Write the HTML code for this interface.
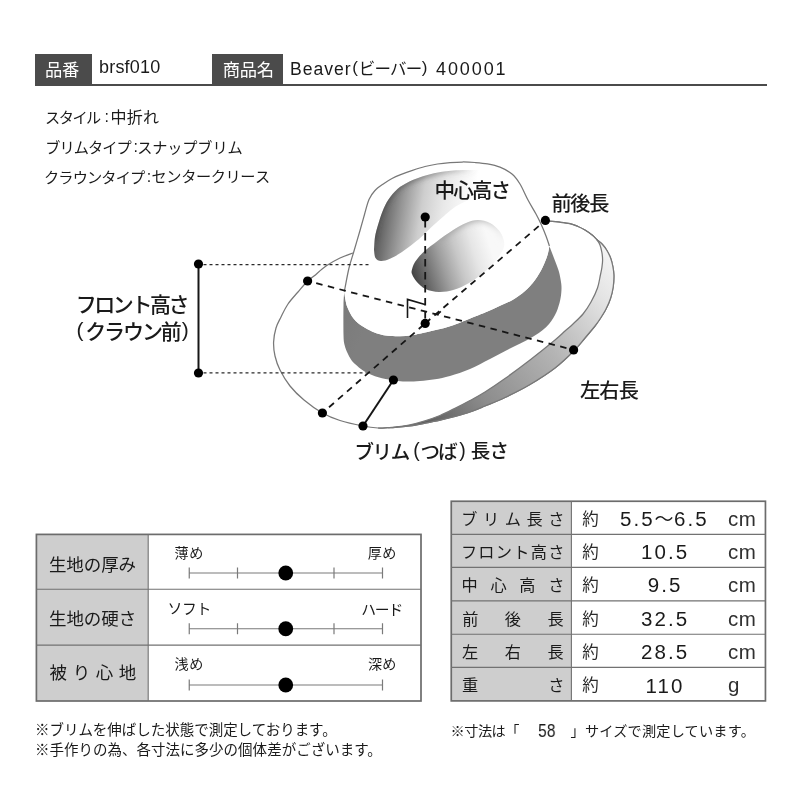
<!DOCTYPE html>
<html lang="ja"><head><meta charset="utf-8"><title>Beaver 400001</title>
<style>
html,body{margin:0;padding:0;background:#fff}
body{width:800px;height:800px;position:relative;overflow:hidden;font-family:"Liberation Sans",sans-serif;color:#1a1a1a}
.a{position:absolute;white-space:nowrap;line-height:1;will-change:transform}
.box{position:absolute;background:#4b4b4b}
.cell{position:absolute}
svg text{font-family:"Liberation Sans","Noto Sans CJK JP",sans-serif}
</style></head><body>
<div class="box" style="left:35px;top:54px;width:57px;height:31.4px"></div>
<div class="box" style="left:212.2px;top:54px;width:70.4px;height:31.4px"></div>
<div class="a" style="left:35px;top:83.8px;width:732.3px;height:1.6px;background:#4b4b4b"></div>
<div class="a" id="t_code" style="left:99px;top:58.2px;font-size:18px;letter-spacing:.2px">brsf010</div>
<div class="a" id="t_name" style="left:289.9px;top:61px;font-size:17.6px;letter-spacing:.95px">Beaver</div>
<div class="a" id="t_num" style="left:435.7px;top:60px;font-size:18px;letter-spacing:1.9px">400001</div>

<!-- left table -->
<div class="cell" style="left:36.4px;top:534.4px;width:111.8px;height:166.6px;background:#cecece"></div>

<!-- right table -->
<div class="cell" style="left:451.25px;top:501.25px;width:120.2px;height:199.6px;background:#cecece"></div>
<div class="a" id="n0a" style="left:620.2px;top:508.8px;font-size:20.5px;letter-spacing:2.1px">5.5</div>
<div class="a" id="n0b" style="left:673.8px;top:508.8px;font-size:20.5px;letter-spacing:2.1px">6.5</div>
<div class="a" id="u0" style="left:728px;top:508.6px;font-size:20.5px;letter-spacing:.4px;color:#303030">cm</div>
<div class="a" id="n1" style="left:563.75px;width:200px;text-align:center;top:542.1px;font-size:20.5px;letter-spacing:2.1px;text-indent:2.1px">10.5</div>
<div class="a" id="u1" style="left:728px;top:541.9px;font-size:20.5px;letter-spacing:.4px;color:#303030">cm</div>
<div class="a" id="n2" style="left:563.75px;width:200px;text-align:center;top:575.2px;font-size:20.5px;letter-spacing:2.1px;text-indent:2.1px">9.5</div>
<div class="a" id="u2" style="left:728px;top:575px;font-size:20.5px;letter-spacing:.4px;color:#303030">cm</div>
<div class="a" id="n3" style="left:563.75px;width:200px;text-align:center;top:608.9px;font-size:20.5px;letter-spacing:2.1px;text-indent:2.1px">32.5</div>
<div class="a" id="u3" style="left:728px;top:608.7px;font-size:20.5px;letter-spacing:.4px;color:#303030">cm</div>
<div class="a" id="n4" style="left:563.75px;width:200px;text-align:center;top:642.3px;font-size:20.5px;letter-spacing:2.1px;text-indent:2.1px">28.5</div>
<div class="a" id="u4" style="left:728px;top:642.1px;font-size:20.5px;letter-spacing:.4px;color:#303030">cm</div>
<div class="a" id="n5" style="left:563.75px;width:200px;text-align:center;top:675.5px;font-size:20.5px;letter-spacing:2.1px;text-indent:2.1px">110</div>
<div class="a" id="u5" style="left:728.4px;top:675.3px;font-size:20.5px;letter-spacing:.4px;color:#303030">g</div>
<div class="a" id="t_58" style="left:537.5px;top:722.7px;font-size:17.5px;transform:scaleX(.9);transform-origin:0 0">58</div>
<svg width="800" height="800" viewBox="0 0 800 800" style="position:absolute;left:0;top:0"><defs><linearGradient id="gd1" gradientUnits="userSpaceOnUse" x1="373" y1="215" x2="470" y2="230"><stop offset="0" stop-color="#4e4e4e"/><stop offset=".12" stop-color="#6a6a6a"/><stop offset=".28" stop-color="#989898"/><stop offset=".48" stop-color="#cecece"/><stop offset=".69" stop-color="#e8e8e8"/><stop offset=".9" stop-color="#f8f8f8"/><stop offset="1" stop-color="#fff"/></linearGradient><linearGradient id="gd2" gradientUnits="userSpaceOnUse" x1="411" y1="278" x2="492" y2="252"><stop offset="0" stop-color="#3c3c3c"/><stop offset=".2" stop-color="#6e6e6e"/><stop offset=".4" stop-color="#9e9e9e"/><stop offset=".6" stop-color="#c8c8c8"/><stop offset=".8" stop-color="#e6e6e6"/><stop offset="1" stop-color="#f8f8f8"/></linearGradient><linearGradient id="gband" gradientUnits="userSpaceOnUse" x1="343" y1="300" x2="372" y2="312"><stop offset="0" stop-color="#7a7a7a"/><stop offset="1" stop-color="#7f7f7f"/></linearGradient><linearGradient id="gsl" gradientUnits="userSpaceOnUse" x1="400" y1="430" x2="612" y2="250"><stop offset="0" stop-color="#4a4a4a"/><stop offset=".3" stop-color="#8c8c8c"/><stop offset=".6" stop-color="#b4b4b4"/><stop offset=".85" stop-color="#e2e2e2"/><stop offset="1" stop-color="#f6f6f6"/></linearGradient><linearGradient id="grim" gradientUnits="userSpaceOnUse" x1="437" y1="0" x2="508" y2="0"><stop offset="0" stop-color="#a0a0a0"/><stop offset=".55" stop-color="#a6a6a6"/><stop offset=".8" stop-color="#d0d0d0"/><stop offset="1" stop-color="#fff"/></linearGradient><linearGradient id="grim1" gradientUnits="userSpaceOnUse" x1="373" y1="0" x2="475" y2="0"><stop offset="0" stop-color="#404040" stop-opacity=".55"/><stop offset=".5" stop-color="#505050" stop-opacity=".5"/><stop offset=".8" stop-color="#606060" stop-opacity=".3"/><stop offset="1" stop-color="#808080" stop-opacity="0"/></linearGradient><clipPath id="cd1"><path d="M374 250C374.17 247.83 374.33 241.17 375 237C375.67 232.83 376.75 229.25 378 225C379.25 220.75 380.75 215.75 382.5 211.5C384.25 207.25 386 203.25 388.5 199.5C391 195.75 394 192 397.5 189C401 186 405.25 183.62 409.5 181.5C413.75 179.38 418.25 177.75 423 176.25C427.75 174.75 432.5 173.5 438 172.5C443.5 171.5 448.67 170.67 456 170.25C463.33 169.83 477.67 170.04 482 170L482 194C477.92 195.92 463.83 201.83 457.5 205.5C451.17 209.17 448.5 212.25 444 216C439.5 219.75 434 224.75 430.5 228C427 231.25 425.75 233 423 235.5C420.25 238 417.5 240.25 414 243C410.5 245.75 406 249.38 402 252C398 254.62 393.5 257.25 390 258.75C386.5 260.25 383.42 261.12 381 261C378.58 260.88 376.67 259.83 375.5 258C374.33 256.17 374.25 251.33 374 250Z"/></clipPath><clipPath id="cd2"><path d="M412 269.5C412.5 267.5 413 265 415 262C417 259 420.25 255 424 251.5C427.75 248 432.75 244.5 437.5 241C442.25 237.5 447.75 233.5 452.5 230.5C457.25 227.5 461.75 224.75 466 223C470.25 221.25 474 220 478 220C482 220 486.5 221.25 490 223C493.5 224.75 496.75 227.75 499 230.5C501.25 233.25 502.75 236.5 503.5 239.5C504.25 242.5 504.75 245 503.5 248.5C502.25 252 499.25 256.5 496 260.5C492.75 264.5 488.5 268.75 484 272.5C479.5 276.25 474 280.12 469 283C464 285.88 459 288.25 454 289.75C449 291.25 443.75 292.12 439 292C434.25 291.88 429.25 290.75 425.5 289C421.75 287.25 418.75 284 416.5 281.5C414.25 279 412.75 276 412 274C411.25 272 411.5 271.5 412 269.5Z"/></clipPath><filter id="bl2" x="-30%" y="-30%" width="160%" height="160%"><feGaussianBlur stdDeviation="2.6"/></filter><filter id="bl" x="-30%" y="-30%" width="160%" height="160%"><feGaussianBlur stdDeviation="3.2"/></filter></defs><path d="M353 253C350.83 253.83 344.5 255.83 340 258C335.5 260.17 330.33 263 326 266C321.67 269 317.07 273.5 314 276C310.93 278.5 310.27 278.33 307.6 281C304.93 283.67 301.27 288.17 298 292C294.73 295.83 290.83 299.83 288 304C285.17 308.17 283 313 281 317C279 321 277.23 323.83 276 328C274.77 332.17 273.77 337.33 273.6 342C273.43 346.67 273.93 351.33 275 356C276.07 360.67 277.5 365 280 370C282.5 375 286 381 290 386C294 391 298.6 395.5 304 400C309.4 404.5 316.4 409.58 322.4 413C328.4 416.42 333.23 418.33 340 420.5C346.77 422.67 356.67 424.75 363 426C369.33 427.25 373.83 427.73 378 428C382.17 428.27 385.17 427.7 388 427.6C390.83 427.5 391.33 427.7 395 427.4C398.67 427.1 405 426.5 410 425.8C415 425.1 420 424.13 425 423.2C430 422.27 435 421.32 440 420.2C445 419.08 450 417.87 455 416.5C460 415.13 465 413.75 470 412C475 410.25 479.17 408.42 485 406C490.83 403.58 497.5 401.08 505 397.5C512.5 393.92 521.67 389.42 530 384.5C538.33 379.58 547.72 373.58 555 368C562.28 362.42 568.7 356 573.7 351C578.7 346 581.45 342.17 585 338C588.55 333.83 592.5 329.17 595 326C597.5 322.83 598.17 321.83 600 319C601.83 316.17 604.25 312.42 606 309C607.75 305.58 609.3 302.17 610.5 298.5C611.7 294.83 612.63 290.92 613.2 287C613.77 283.08 613.98 278.5 613.9 275C613.82 271.5 613.32 268.88 612.75 266C612.18 263.12 611.5 260.38 610.5 257.75C609.5 255.12 608.12 252.5 606.75 250.25C605.38 248 603.88 246 602.25 244.25C600.62 242.5 598.62 241.25 597 239.75C595.38 238.25 594.5 236.88 592.5 235.25C590.5 233.62 587.5 231.5 585 230C582.5 228.5 580 227.32 577.5 226.25C575 225.18 572.92 224.28 570 223.6C567.08 222.92 564.1 222.63 560 222.2C555.9 221.77 547.83 221.2 545.4 221" fill="#fff" stroke="#787878" stroke-width="1.25"/><path d="M597 239.75C598.25 241.38 599.18 242.88 600 245C600.82 247.12 601.47 250 601.9 252.5C602.33 255 602.6 257.5 602.6 260C602.6 262.5 602.27 265 601.9 267.5C601.53 270 601.13 271.58 600.4 275C599.67 278.42 599.07 283.5 597.5 288C595.93 292.5 593.42 297.67 591 302C588.58 306.33 586 310.33 583 314C580 317.67 576 321.17 573 324C570 326.83 568 328.33 565 331C562 333.67 560.83 335.17 555 340C549.17 344.83 538.33 353.58 530 360C521.67 366.42 512.5 373.17 505 378.5C497.5 383.83 490.83 388.33 485 392C479.17 395.67 475 397.78 470 400.5C465 403.22 460 405.8 455 408.3C450 410.8 445 413.42 440 415.5C435 417.58 430 419.25 425 420.8C420 422.35 415 423.77 410 424.8C405 425.83 398.67 426.53 395 427C391.33 427.47 389.17 427.5 388 427.6L388 427.6C390.83 427.5 391.33 427.7 395 427.4C398.67 427.1 405 426.5 410 425.8C415 425.1 420 424.13 425 423.2C430 422.27 435 421.32 440 420.2C445 419.08 450 417.87 455 416.5C460 415.13 465 413.75 470 412C475 410.25 479.17 408.42 485 406C490.83 403.58 497.5 401.08 505 397.5C512.5 393.92 521.67 389.42 530 384.5C538.33 379.58 547.72 373.58 555 368C562.28 362.42 568.7 356 573.7 351C578.7 346 581.45 342.17 585 338C588.55 333.83 592.5 329.17 595 326C597.5 322.83 598.17 321.83 600 319C601.83 316.17 604.25 312.42 606 309C607.75 305.58 609.3 302.17 610.5 298.5C611.7 294.83 612.63 290.92 613.2 287C613.77 283.08 613.98 278.5 613.9 275C613.82 271.5 613.32 268.88 612.75 266C612.18 263.12 611.5 260.38 610.5 257.75C609.5 255.12 608.12 252.5 606.75 250.25C605.38 248 603.88 246 602.25 244.25C600.62 242.5 598.62 241.25 597 239.75Z" fill="url(#gsl)"/><path d="M597 239.75C598.25 241.38 599.18 242.88 600 245C600.82 247.12 601.47 250 601.9 252.5C602.33 255 602.6 257.5 602.6 260C602.6 262.5 602.27 265 601.9 267.5C601.53 270 601.13 271.58 600.4 275C599.67 278.42 599.07 283.5 597.5 288C595.93 292.5 593.42 297.67 591 302C588.58 306.33 586 310.33 583 314C580 317.67 576 321.17 573 324C570 326.83 568 328.33 565 331C562 333.67 560.83 335.17 555 340C549.17 344.83 538.33 353.58 530 360C521.67 366.42 512.5 373.17 505 378.5C497.5 383.83 490.83 388.33 485 392C479.17 395.67 475 397.78 470 400.5C465 403.22 460 405.8 455 408.3C450 410.8 445 413.42 440 415.5C435 417.58 430 419.25 425 420.8C420 422.35 415 423.77 410 424.8C405 425.83 398.67 426.53 395 427C391.33 427.47 389.17 427.5 388 427.6" fill="none" stroke="#787878" stroke-width="1.25"/><path d="M378 428C382.17 428.27 385.17 427.7 388 427.6C390.83 427.5 391.33 427.7 395 427.4C398.67 427.1 405 426.5 410 425.8C415 425.1 420 424.13 425 423.2C430 422.27 435 421.32 440 420.2C445 419.08 450 417.87 455 416.5C460 415.13 465 413.75 470 412C475 410.25 479.17 408.42 485 406C490.83 403.58 497.5 401.08 505 397.5C512.5 393.92 521.67 389.42 530 384.5C538.33 379.58 547.72 373.58 555 368C562.28 362.42 568.7 356 573.7 351C578.7 346 581.45 342.17 585 338C588.55 333.83 592.5 329.17 595 326C597.5 322.83 598.17 321.83 600 319C601.83 316.17 604.25 312.42 606 309C607.75 305.58 609.3 302.17 610.5 298.5C611.7 294.83 612.63 290.92 613.2 287C613.77 283.08 613.98 278.5 613.9 275C613.82 271.5 613.32 268.88 612.75 266C612.18 263.12 611.5 260.38 610.5 257.75C609.5 255.12 608.12 252.5 606.75 250.25C605.38 248 603.88 246 602.25 244.25C600.62 242.5 598.62 241.25 597 239.75C595.38 238.25 594.5 236.88 592.5 235.25C590.5 233.62 587.5 231.5 585 230C582.5 228.5 580 227.32 577.5 226.25C575 225.18 572.92 224.28 570 223.6C567.08 222.92 564.1 222.63 560 222.2C555.9 221.77 547.83 221.2 545.4 221" fill="none" stroke="#787878" stroke-width="1.25"/><path d="M549.4 246C550.12 247.92 552.19 253.33 553.75 257.5C555.31 261.67 557.5 266.62 558.75 271C560 275.38 560.83 280.08 561.25 283.75C561.67 287.42 561.54 289.79 561.25 293C560.96 296.21 560.54 299.33 559.5 303C558.46 306.67 557.21 311 555 315C552.79 319 550.42 323.08 546.25 327C542.08 330.92 536.04 334.92 530 338.5C523.96 342.08 516.67 345.08 510 348.5C503.33 351.92 496.67 355.58 490 359C483.33 362.42 476.67 366.17 470 369C463.33 371.83 455.83 374.28 450 376C444.17 377.72 440 378.47 435 379.3C430 380.13 424.5 380.62 420 381C415.5 381.38 411.67 381.6 408 381.6C404.33 381.6 401.21 381.33 398 381C394.79 380.67 392.58 380.4 388.75 379.6C384.92 378.8 379.17 377.63 375 376.2C370.83 374.77 367.08 373.03 363.75 371C360.42 368.97 357.12 365.92 355 364C352.88 362.08 352.25 361.33 351 359.5C349.75 357.67 348.57 355.42 347.5 353C346.43 350.58 345.27 348 344.6 345C343.93 342 343.68 341.67 343.5 335C343.32 328.33 343.37 312.25 343.5 305C343.63 297.75 344.17 293.75 344.3 291.5C344.47 292.75 344.77 296.33 345.3 299C345.83 301.67 346.09 304.21 347.5 307.5C348.91 310.79 351.25 315.62 353.75 318.75C356.25 321.88 359.38 324.14 362.5 326.3C365.62 328.46 369.58 330.38 372.5 331.7C375.42 333.02 377.42 333.52 380 334.2C382.58 334.88 384.67 335.45 388 335.8C391.33 336.15 396 336.4 400 336.3C404 336.2 407.83 335.82 412 335.2C416.17 334.58 418.67 334.08 425 332.6C431.33 331.12 441.67 328.98 450 326.3C458.33 323.62 468.75 318.97 475 316.5C481.25 314.03 483.33 313.28 487.5 311.5C491.67 309.72 495.83 307.72 500 305.8C504.17 303.88 508.33 302.47 512.5 300C516.67 297.53 521.25 294.33 525 291C528.75 287.67 532.08 283.92 535 280C537.92 276.08 540.42 271.67 542.5 267.5C544.58 263.33 546.35 258.58 547.5 255C548.65 251.42 549.08 247.5 549.4 246Z" fill="url(#gband)"/><path d="M344.3 291.5C344.42 290.92 344.22 291.92 345 288C345.78 284.08 347.5 274.17 349 268C350.5 261.83 352.17 257.25 354 251C355.83 244.75 358.25 236.58 360 230.5C361.75 224.42 363 219.67 364.5 214.5C366 209.33 367.25 203.5 369 199.5C370.75 195.5 372.5 193.17 375 190.5C377.5 187.83 381.17 185.5 384 183.5C386.83 181.5 389.33 179.95 392 178.5C394.67 177.05 396.58 176.17 400 174.8C403.42 173.43 408.33 171.68 412.5 170.3C416.67 168.92 420.83 167.55 425 166.5C429.17 165.45 433.33 164.65 437.5 164C441.67 163.35 445.83 162.93 450 162.6C454.17 162.27 458.33 162.02 462.5 162C466.67 161.98 470.83 162.18 475 162.5C479.17 162.82 483.33 163.12 487.5 163.9C491.67 164.68 495.92 165.52 500 167.2C504.08 168.88 508.67 171.2 512 174C515.33 176.8 517.33 179.67 520 184C522.67 188.33 525.33 195 528 200C530.67 205 533.83 210 536 214C538.17 218 539.33 220.33 541 224C542.67 227.67 544.6 232.33 546 236C547.4 239.67 548.83 244.33 549.4 246C549.08 247.5 548.65 251.42 547.5 255C546.35 258.58 544.58 263.33 542.5 267.5C540.42 271.67 537.92 276.08 535 280C532.08 283.92 528.75 287.67 525 291C521.25 294.33 516.67 297.53 512.5 300C508.33 302.47 504.17 303.88 500 305.8C495.83 307.72 491.67 309.72 487.5 311.5C483.33 313.28 481.25 314.03 475 316.5C468.75 318.97 458.33 323.62 450 326.3C441.67 328.98 431.33 331.12 425 332.6C418.67 334.08 416.17 334.58 412 335.2C407.83 335.82 404 336.2 400 336.3C396 336.4 391.33 336.15 388 335.8C384.67 335.45 382.58 334.88 380 334.2C377.42 333.52 375.42 333.02 372.5 331.7C369.58 330.38 365.62 328.46 362.5 326.3C359.38 324.14 356.25 321.88 353.75 318.75C351.25 315.62 348.91 310.79 347.5 307.5C346.09 304.21 345.83 301.67 345.3 299C344.77 296.33 344.47 292.75 344.3 291.5Z" fill="#fff"/><path d="M344.3 291.5C344.42 290.92 344.22 291.92 345 288C345.78 284.08 347.5 274.17 349 268C350.5 261.83 352.17 257.25 354 251C355.83 244.75 358.25 236.58 360 230.5C361.75 224.42 363 219.67 364.5 214.5C366 209.33 367.25 203.5 369 199.5C370.75 195.5 372.5 193.17 375 190.5C377.5 187.83 381.17 185.5 384 183.5C386.83 181.5 389.33 179.95 392 178.5C394.67 177.05 396.58 176.17 400 174.8C403.42 173.43 408.33 171.68 412.5 170.3C416.67 168.92 420.83 167.55 425 166.5C429.17 165.45 433.33 164.65 437.5 164C441.67 163.35 445.83 162.93 450 162.6C454.17 162.27 458.33 162.02 462.5 162C466.67 161.98 470.83 162.18 475 162.5C479.17 162.82 483.33 163.12 487.5 163.9C491.67 164.68 495.92 165.52 500 167.2C504.08 168.88 508.67 171.2 512 174C515.33 176.8 517.33 179.67 520 184C522.67 188.33 525.33 195 528 200C530.67 205 533.83 210 536 214C538.17 218 539.33 220.33 541 224C542.67 227.67 544.6 232.33 546 236C547.4 239.67 548.83 244.33 549.4 246" fill="none" stroke="#787878" stroke-width="1.25"/><path d="M374 250C374.17 247.83 374.33 241.17 375 237C375.67 232.83 376.75 229.25 378 225C379.25 220.75 380.75 215.75 382.5 211.5C384.25 207.25 386 203.25 388.5 199.5C391 195.75 394 192 397.5 189C401 186 405.25 183.62 409.5 181.5C413.75 179.38 418.25 177.75 423 176.25C427.75 174.75 432.5 173.5 438 172.5C443.5 171.5 448.67 170.67 456 170.25C463.33 169.83 477.67 170.04 482 170L482 194C477.92 195.92 463.83 201.83 457.5 205.5C451.17 209.17 448.5 212.25 444 216C439.5 219.75 434 224.75 430.5 228C427 231.25 425.75 233 423 235.5C420.25 238 417.5 240.25 414 243C410.5 245.75 406 249.38 402 252C398 254.62 393.5 257.25 390 258.75C386.5 260.25 383.42 261.12 381 261C378.58 260.88 376.67 259.83 375.5 258C374.33 256.17 374.25 251.33 374 250Z" fill="url(#gd1)"/><g clip-path="url(#cd1)"><path d="M372 240C372.33 237.5 372.67 230 374 225C375.33 220 377.83 214.5 380 210C382.17 205.5 384.25 201.75 387 198C389.75 194.25 392.83 190.5 396.5 187.5C400.17 184.5 404.58 182.13 409 180C413.42 177.87 418.17 176.2 423 174.7C427.83 173.2 432.5 172 438 171C443.5 170 448.67 169.12 456 168.7C463.33 168.28 477.67 168.53 482 168.5" fill="none" stroke="url(#grim1)" stroke-width="8" filter="url(#bl2)"/></g><path d="M412 269.5C412.5 267.5 413 265 415 262C417 259 420.25 255 424 251.5C427.75 248 432.75 244.5 437.5 241C442.25 237.5 447.75 233.5 452.5 230.5C457.25 227.5 461.75 224.75 466 223C470.25 221.25 474 220 478 220C482 220 486.5 221.25 490 223C493.5 224.75 496.75 227.75 499 230.5C501.25 233.25 502.75 236.5 503.5 239.5C504.25 242.5 504.75 245 503.5 248.5C502.25 252 499.25 256.5 496 260.5C492.75 264.5 488.5 268.75 484 272.5C479.5 276.25 474 280.12 469 283C464 285.88 459 288.25 454 289.75C449 291.25 443.75 292.12 439 292C434.25 291.88 429.25 290.75 425.5 289C421.75 287.25 418.75 284 416.5 281.5C414.25 279 412.75 276 412 274C411.25 272 411.5 271.5 412 269.5Z" fill="url(#gd2)"/><g clip-path="url(#cd2)"><path d="M437.5 238.5C440 236.75 447.75 231 452.5 228C457.25 225 461.75 222.25 466 220.5C470.25 218.75 473.83 217.5 478 217.5C482.17 217.5 487.17 218.58 491 220.5C494.83 222.42 498.5 225.83 501 229C503.5 232.17 505.17 237.75 506 239.5" fill="none" stroke="url(#grim)" stroke-width="7" filter="url(#bl)"/></g><g stroke="#161616" fill="none"><path d="M198.5 264V373" stroke-width="2"/><path d="M197.5 264.6H370.5M197.5 372.8H366.5" stroke-width="1.35" stroke="#2a2a2a" stroke-dasharray="3 3"/><g stroke-width="1.8" stroke-dasharray="6.5 5.4" stroke-dashoffset="3.1"><path d="M307.6 281L573.6 349.9" stroke-dasharray="6.5 5.5"/><path d="M545.4 220.4L425.2 323.4M322.4 413L425.2 323.4"/><path d="M425.2 219.9V323.4" stroke-dasharray="7.6 5.4" stroke-dashoffset="0"/></g><path d="M363 426L393.4 380" stroke-width="2"/><path d="M407.5 318V299.4L425 304.6M437.3 314.8L440.8 311.4" stroke-width="1.6"/></g><g fill="#000"><circle cx="198.5" cy="264" r="4.6"/><circle cx="198.5" cy="373" r="4.6"/><circle cx="307.6" cy="281" r="4.6"/><circle cx="573.6" cy="349.9" r="4.6"/><circle cx="545.4" cy="220.4" r="4.6"/><circle cx="322.4" cy="413" r="4.6"/><circle cx="425.2" cy="217" r="4.6"/><circle cx="425.2" cy="323.4" r="4.6"/><circle cx="363" cy="426" r="4.6"/><circle cx="393.4" cy="380" r="4.6"/></g><g stroke="#7a7a7a" stroke-width="1.2" fill="none"><path d="M189.25 573H382.5M189.25 567.4V578.6M382.5 567.4V578.6M237.5 567.4V578.6M334 567.4V578.6"/><path d="M189.25 628.75H382.5M189.25 623.15V634.35M382.5 623.15V634.35M237.5 623.15V634.35M334 623.15V634.35"/><path d="M189.25 685H382.5M189.25 679.4V690.6M382.5 679.4V690.6"/></g><g fill="#000"><circle cx="285.75" cy="573" r="7.4"/><circle cx="285.75" cy="628.75" r="7.4"/><circle cx="285.75" cy="685" r="7.4"/></g><g fill="none" stroke="#6c6c6c" stroke-width="1.7"><rect x="36.4" y="534.4" width="384.6" height="166.6"/><rect x="451.25" y="501.25" width="314.2" height="199.65"/></g><g fill="none" stroke="#727272" stroke-width="1.1"><path d="M36.4 589.3H421M36.4 645.1H421M148.2 534.4V701"/><path d="M571.4 501.25V700.9M451.25 534.4H765.45M451.25 567.4H765.45M451.25 600.9H765.45M451.25 634.3H765.45M451.25 667.4H765.45"/></g>
<g fill="#fff">
<text x="44.94 62" y="75.9" font-size="17.3">品番</text>
<text x="222.68 239.66 256.64" y="76.19" font-size="17.3">商品名</text>
</g>
<g fill="#1a1a1a">
<text x="352.2" y="73.48" font-size="17">(</text>
<text x="358.79 374.41 390.02 405.63" y="74.81" font-size="16.5">ビーバー</text>
<text x="421.76" y="73.48" font-size="17">)</text>

<text x="44.92 58.65 72.38 86.12" y="122.5" font-size="15.2">スタイル</text>
<text x="104.5" y="121.97" font-size="16">:</text>
<text x="110.56 126.77 142.97" y="122.86" font-size="16">中折れ</text>

<text x="45.18 59.44 73.7 87.96 102.22 116.48" y="152.6" font-size="15.2">ブリムタイプ</text>
<text x="133.5" y="152.22" font-size="16">:</text>
<text x="137.17 152.22 167.27 182.32 197.37 212.42 227.47" y="152.61" font-size="15.2">スナップブリム</text>

<text x="44.05 58.37 72.69 87.01 101.34 115.66 129.98" y="182.6" font-size="15.2">クラウンタイプ</text>
<text x="146.8" y="182.22" font-size="16">:</text>
<text x="151.58 166.37 181.16 195.96 210.75 225.54 240.33 255.12" y="182.13" font-size="15.2">センタークリース</text>
</g>
<g fill="#1a1a1a" font-weight="500">
<text x="75.67 94.26 112.84 131.42 150 168.58" y="312.15" font-size="21">フロント高さ</text>
<text x="76.6" y="336.96" font-size="21">(</text>
<text x="85.15 104.06 122.97 141.89 160.8" y="338.72" font-size="21">クラウン前</text>
<text x="181.81" y="336.96" font-size="21">)</text>
<text x="434.49 453.14 471.79 490.44" y="197.52" font-size="20.6">中心高さ</text>
<text x="551.49 570.35 589.21" y="210.71" font-size="20.2">前後長</text>
<text x="579.93 599.32 618.71" y="398.03" font-size="20.2">左右長</text>
<text x="354.4 372.55 390.7" y="458.93" font-size="19.5">ブリム</text>
<text x="413.3" y="457" font-size="19.5">(</text>
<text x="420.58 438.31" y="458.9" font-size="19.5">つば</text>
<text x="459.21" y="457" font-size="19.5">)</text>
<text x="470.87 489.43" y="458.29" font-size="19.5">長さ</text>
</g>
<g fill="#1a1a1a">
<text x="48.99 66.37 83.76 101.14 118.52" y="570.58" font-size="17.5">生地の厚み</text>
<text x="48.99 66.41 83.84 101.26 118.68" y="624.77" font-size="17.5">生地の硬さ</text>
<text x="49.61 72.69 95.78 118.86" y="678.99" font-size="17.5">被り心地</text>

<text x="174.38 189.19" y="557.76" font-size="14.1">薄め</text>
<text x="367.64 382.29" y="557.64" font-size="14.1">厚め</text>
<text x="167.45 181.95 196.44" y="614.33" font-size="14.8">ソフト</text>
<text x="361.26 374.85 388.45" y="614.62" font-size="14.8">ハード</text>
<text x="174.43 189.19" y="668.92" font-size="14.1">浅め</text>
<text x="367.9 382.29" y="668.82" font-size="14.1">深め</text>

<text x="461.33 483.06 504.79 526.52 548.25" y="524.71" font-size="16.2">ブリム長さ</text>
<text x="460.89 478.37 495.84 513.31 530.78 548.25" y="557.92" font-size="16.2">フロント高さ</text>
<text x="461.54 490.44 519.35 548.25" y="590.81" font-size="16.2">中心高さ</text>
<text x="462.14 504.78 547.41" y="624.59" font-size="16.2">前後長</text>
<text x="462.11 504.76 547.41" y="658.04" font-size="16.2">左右長</text>
<text x="462.08 548.25" y="691.22" font-size="16.2">重さ</text>

<text x="654.48" y="525.59" font-size="19" font-family="'Noto Sans CJK JP',sans-serif">～</text>

<text x="34.97" y="735.35" font-size="14.5" letter-spacing="-0.025">※ブリムを伸ばした状態で測定しております。</text>
<text x="34.97" y="755.39" font-size="14.5" letter-spacing="0.01">※手作りの為、各寸法に多少の個体差がございます。</text>
<text x="450.61" y="736.18" font-size="14.2" letter-spacing="-0.53">※寸法は「</text>
<text x="570.52" y="736.17" font-size="14.2" letter-spacing="0.18">」サイズで測定しています。</text>
</g>
<g fill="#2a2a2a">
<text x="582.3" y="524.51" font-size="16.5">約</text>
<text x="582.3" y="557.81" font-size="16.5">約</text>
<text x="582.3" y="590.91" font-size="16.5">約</text>
<text x="582.3" y="624.61" font-size="16.5">約</text>
<text x="582.3" y="658.01" font-size="16.5">約</text>
<text x="582.3" y="691.21" font-size="16.5">約</text>
</g>
</svg>

</body></html>
